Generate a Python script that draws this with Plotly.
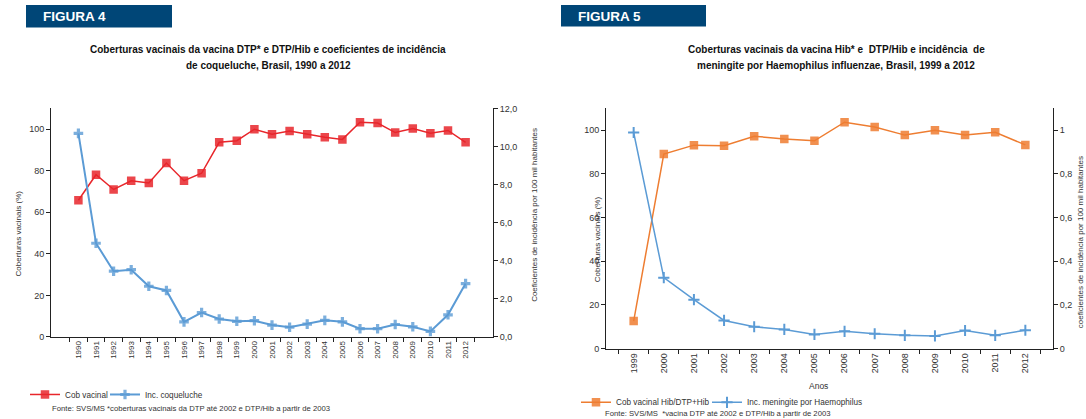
import plotly.graph_objects as go

# ---------------- data ----------------
anos4 = ["1990", "1991", "1992", "1993", "1994", "1995", "1996", "1997", "1998", "1999",
         "2000", "2001", "2002", "2003", "2004", "2005", "2006", "2007", "2008", "2009",
         "2010", "2011", "2012"]
cob4 = [65.8, 78.1, 71.0, 75.2, 74.1, 83.7, 75.2, 78.8, 93.7, 94.5,
        100.0, 97.6, 99.2, 97.6, 96.1, 95.1, 103.4, 103.0, 98.4, 100.3,
        98.1, 99.4, 93.7]
inc4 = [10.69, 4.92, 3.45, 3.53, 2.66, 2.44, 0.79, 1.28, 0.94, 0.82,
        0.85, 0.62, 0.51, 0.67, 0.87, 0.79, 0.43, 0.43, 0.65, 0.53,
        0.29, 1.16, 2.80]

anos5 = ["1999", "2000", "2001", "2002", "2003", "2004", "2005", "2006", "2007", "2008",
         "2009", "2010", "2011", "2012"]
cob5 = [12.6, 89.1, 93.2, 92.9, 97.3, 96.0, 95.2, 103.7, 101.5, 97.8,
        100.0, 97.8, 99.1, 93.3]
inc5 = [0.99, 0.325, 0.224, 0.129, 0.100, 0.088, 0.065, 0.079, 0.068, 0.061,
        0.058, 0.083, 0.061, 0.084]

ticks_left = [0, 20, 40, 60, 80, 100]
ticks_r4 = [0, 2, 4, 6, 8, 10, 12]
ticks_r5 = [0, 0.2, 0.4, 0.6, 0.8, 1]
ticktext_r5 = ["0", "0,2", "0,4", "0,6", "0,8", "1"]

# ---------------- style ----------------
W, H = 1086, 419
RED = "#e8262b"
BLUE = "#5b9bd5"
ORANGE = "#ee7d31"
NAVY = "#004677"
AX = "#222222"
TXT = "#333333"
FONT = "Liberation Sans, Arial, sans-serif"
TFONT = "Liberation Sans, Arial, sans-serif"


def px_x(x):
    return x / W


def px_y(y):
    return 1 - y / H


fig = go.Figure()

fig.add_trace(go.Scatter(x=anos4, y=cob4, name="Cob vacinal", mode="lines+markers",
                         line=dict(color=RED, width=1.5),
                         marker=dict(symbol="square", size=8.5, color=RED, opacity=0.85),
                         xaxis="x", yaxis="y", legend="legend", showlegend=True))
fig.add_trace(go.Scatter(x=anos4, y=inc4, name="Inc. coqueluche", mode="lines+markers",
                         line=dict(color=BLUE, width=2),
                         marker=dict(symbol="cross", size=8, color=BLUE, opacity=0.8),
                         xaxis="x", yaxis="y2", legend="legend2", showlegend=True))
fig.add_trace(go.Scatter(x=anos5, y=cob5, name="Cob vacinal Hib/DTP+Hib", mode="lines+markers",
                         line=dict(color=ORANGE, width=1.5),
                         marker=dict(symbol="square", size=8.5, color=ORANGE, opacity=0.85),
                         xaxis="x2", yaxis="y3", legend="legend3", showlegend=True))
fig.add_trace(go.Scatter(x=anos5, y=inc5, name="Inc. meningite por Haemophilus", mode="lines+markers",
                         line=dict(color=BLUE, width=1.5),
                         marker=dict(symbol="cross-thin", size=8, color=BLUE,
                                     line=dict(color=BLUE, width=2)),
                         xaxis="x2", yaxis="y4", legend="legend4", showlegend=True))

common_x = dict(type="category", tickson="boundaries", ticks="outside", ticklen=4,
                tickcolor=AX, showline=True, linecolor=AX, linewidth=1,
                tickangle=-90, showgrid=False, zeroline=False,
                tickfont=dict(family=FONT, size=8, color=TXT))
common_y = dict(ticks="outside", ticklen=4, tickcolor=AX, showline=True, linecolor=AX,
                linewidth=1, showgrid=False, zeroline=False,
                tickfont=dict(family=FONT, size=9, color=TXT))

fig.update_layout(
    xaxis=dict(domain=[px_x(51), px_x(493)], anchor="y", **common_x),
    yaxis=dict(domain=[px_y(340), px_y(106)], anchor="x", range=[0, 110],
               tickvals=ticks_left, **common_y),
    yaxis2=dict(overlaying="y", side="right", anchor="x", range=[0, 12],
                tickvals=ticks_r4, tickformat=".1f", **common_y),
    xaxis2=dict(domain=[px_x(606), px_x(1053)], anchor="y3", **common_x),
    yaxis3=dict(domain=[px_y(352), px_y(106)], anchor="x2", range=[0, 110],
                tickvals=ticks_left, **common_y),
    yaxis4=dict(overlaying="y3", side="right", anchor="x2", range=[0, 1.1],
                tickvals=ticks_r5, ticktext=ticktext_r5, **common_y),
)
fig.layout.xaxis2.tickfont.size = 9


def leg(x_text, y_mid):
    return dict(orientation="h", x=px_x(x_text - 41), y=px_y(y_mid), xanchor="left",
                yanchor="middle", font=dict(family=FONT, size=8.2, color=TXT),
                itemwidth=30, bgcolor="rgba(0,0,0,0)", visible=True)


fig.update_layout(
    width=W, height=H, margin=dict(l=0, r=0, t=0, b=0),
    paper_bgcolor="white", plot_bgcolor="white",
    separators=",.", showlegend=True,
    font=dict(family=FONT, size=8, color=TXT),
    legend=leg(66, 399),
    legend2=leg(146, 399),
    legend3=leg(617, 407),
    legend4=leg(748, 407),
)

# header boxes
fig.add_shape(type="rect", xref="paper", yref="paper",
              x0=px_x(26), x1=px_x(172), y0=px_y(23), y1=px_y(0),
              fillcolor=NAVY, line=dict(width=0), layer="below")
fig.add_shape(type="rect", xref="paper", yref="paper",
              x0=px_x(561), x1=px_x(706), y0=px_y(22), y1=px_y(0),
              fillcolor=NAVY, line=dict(width=0), layer="below")

ann = []
def A(text, x, y, size, xanchor="center", angle=0, family=FONT, color=TXT):
    ann.append(dict(text=text, x=px_x(x), y=px_y(y), xref="paper", yref="paper",
                    xanchor=xanchor, yanchor="middle", showarrow=False, textangle=angle,
                    font=dict(family=family, size=size, color=color)))

A("<b>FIGURA 4</b>", 41, 12, 13.5, xanchor="left", color="white")
A("<b>FIGURA 5</b>", 576, 12, 13.5, xanchor="left", color="white")

A("<b>Coberturas vacinais da vacina DTP* e DTP/Hib e coeficientes de incidência</b>", 268, 46, 10, family=TFONT, color="#111")
A("<b>de coqueluche, Brasil, 1990 a 2012</b>", 268, 62, 10, family=TFONT, color="#111")
A("<b>Coberturas vacinais da vacina Hib* e  DTP/Hib e incidência  de</b>", 836, 46, 10, family=TFONT, color="#111")
A("<b>meningite por Haemophilus influenzae, Brasil, 1999 a 2012</b>", 836, 62, 10, family=TFONT, color="#111")

A("Coberturas vacinais (%)", 18, 234, 8, angle=-90)
A("Coeficientes de incidência por 100 mil habitantes", 535, 215, 8, angle=-90)
A("Coberturas vacinais (%)", 597, 240, 8, angle=-90)
A("coeficientes de incidência por 100 mil habitantes", 1080, 243, 8, angle=-90)
A("Anos", 818, 390, 8.5)

A("Fonte: SVS/MS *coberturas vacinais da DTP até 2002 e DTP/Hib a partir de 2003", 50, 413, 7.7, xanchor="left")
A("Fonte: SVS/MS  *vacina DTP até 2002 e DTP/Hib a partir de 2003", 603, 418, 7.7, xanchor="left")

fig.update_layout(annotations=ann)

fig.write_html("out.html", config={"displayModeBar": False},
               post_script="document.body.style.margin='0';document.body.style.overflow='hidden';")
